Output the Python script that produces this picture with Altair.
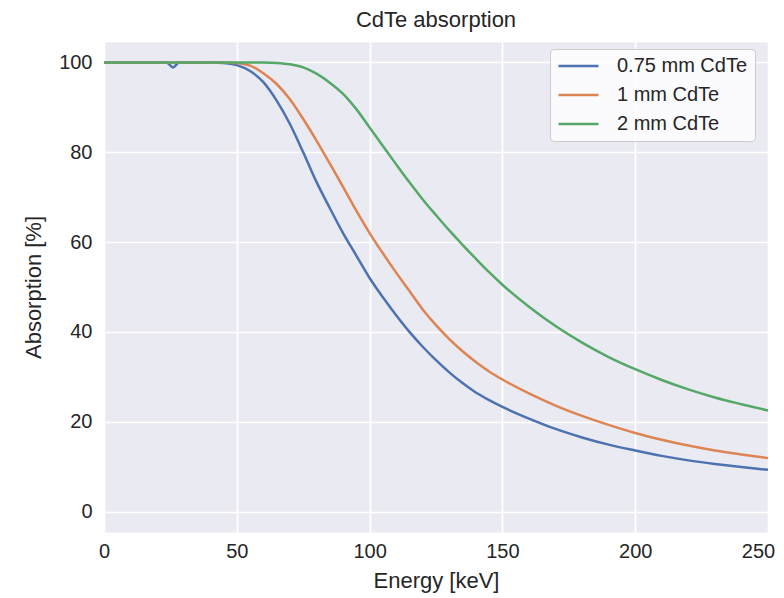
import altair as alt
import pandas as pd

energy = [0, 5, 10, 15, 20, 23.5, 26, 28.3, 32, 35, 40, 45, 50, 55, 60, 65, 70, 75, 80, 85, 90,
          95, 100, 105, 110, 115, 120, 125, 130, 135, 140, 145, 150, 160, 170, 180, 190,
          200, 210, 220, 230, 240, 250]

abs_075 = [100, 100, 100, 100, 100, 100, 98.9, 100, 100, 100, 100, 99.9, 99.4, 98.1, 95.6, 91.5, 86.3,
           80.0, 73.4, 67.6, 62.0, 57.0, 52.0, 47.7, 43.7, 40.0, 36.7, 33.7, 31.0, 28.6, 26.5,
           24.8, 23.3, 20.7, 18.4, 16.5, 14.9, 13.6, 12.4, 11.4, 10.6, 9.9, 9.3]

abs_1 = [100, 100, 100, 100, 100, 100, 100, 100, 100, 100, 100, 100, 99.9, 99.3, 97.6, 95.2, 91.8,
         87.4, 82.6, 77.5, 72.3, 67.0, 62.0, 57.5, 53.2, 49.1, 45.0, 41.5, 38.4, 35.7, 33.3,
         31.2, 29.4, 26.3, 23.6, 21.3, 19.3, 17.5, 16.0, 14.7, 13.6, 12.7, 11.9]

abs_2 = [100, 100, 100, 100, 100, 100, 100, 100, 100, 100, 100, 100, 100, 100, 100, 99.9, 99.6,
         98.9, 97.5, 95.5, 93.0, 89.6, 85.5, 81.4, 77.3, 73.3, 69.5, 66.0, 62.6, 59.4, 56.3,
         53.3, 50.5, 45.6, 41.3, 37.6, 34.4, 31.7, 29.3, 27.2, 25.4, 23.9, 22.5]

series = ["0.75 mm CdTe", "1 mm CdTe", "2 mm CdTe"]
colors = ["#4C72B0", "#DD8452", "#55A868"]
x_ticks = [0, 50, 100, 150, 200, 250]
y_ticks = [0, 20, 40, 60, 80, 100]

rows = []
for name, vals in zip(series, [abs_075, abs_1, abs_2]):
    for i, (e, v) in enumerate(zip(energy, vals)):
        rows.append({"Energy": e, "Absorption": v, "Detector": name, "idx": i})
df = pd.DataFrame(rows)

FONT = "Liberation Sans"
TXT = "#262626"
W = 664

chart = alt.Chart(df).mark_line(strokeWidth=2.5, interpolate="monotone").encode(
    x=alt.X("Energy:Q",
            scale=alt.Scale(domain=[0, 250], nice=False, zero=False),
            axis=alt.Axis(values=x_ticks, title="Energy [keV]", titleX=W / 2, titleY=48,
                          titleBaseline="middle", titleAlign="center", labelPadding=9,
                          labelFlush=False, format="d",
                          labelOffset={"condition": {"test": "datum.value == 250", "value": -10},
                                       "value": 0})),
    y=alt.Y("Absorption:Q",
            scale=alt.Scale(domain=[-4.55, 104.55], nice=False, zero=False),
            axis=alt.Axis(values=y_ticks, title="Absorption [%]", titleX=-71, titleY=245,
                          titleBaseline="middle", titleAlign="center", titleAngle=270,
                          labelPadding=12, labelFlush=False, format="d")),
    color=alt.Color("Detector:N",
                    scale=alt.Scale(domain=series, range=colors),
                    legend=alt.Legend(title=None, orient="none", legendX=446, legendY=7,
                                      symbolType="stroke", symbolSize=1600,
                                      symbolStrokeWidth=2.5, labelFontSize=20,
                                      labelFont=FONT, labelColor=TXT, labelOffset=17,
                                      padding=7, rowPadding=9, clipHeight=20,
                                      fillColor="rgba(255,255,255,0.8)",
                                      strokeColor="#CCCCCC", cornerRadius=4)),
    order="idx:Q",
).properties(
    width=W, height=490,
    title=alt.TitleParams("CdTe absorption", fontSize=22, font=FONT, fontWeight="normal",
                          color=TXT, anchor="middle", offset=10),
    autosize=alt.AutoSizeParams(type="none"),
    padding={"left": 96, "top": 34, "right": 8, "bottom": 62},
    background="white",
).configure_view(
    fill="#EAEAF2", stroke="transparent"
).configure_axis(
    grid=True, gridColor="white", gridWidth=1.7, domain=False, ticks=False, tickSize=0,
    labelFont=FONT, labelFontSize=20, labelColor=TXT,
    titleFont=FONT, titleFontSize=22, titleColor=TXT, titleFontWeight="normal",
)

chart.save("out.html", embed_options={"renderer": "svg", "actions": False})
